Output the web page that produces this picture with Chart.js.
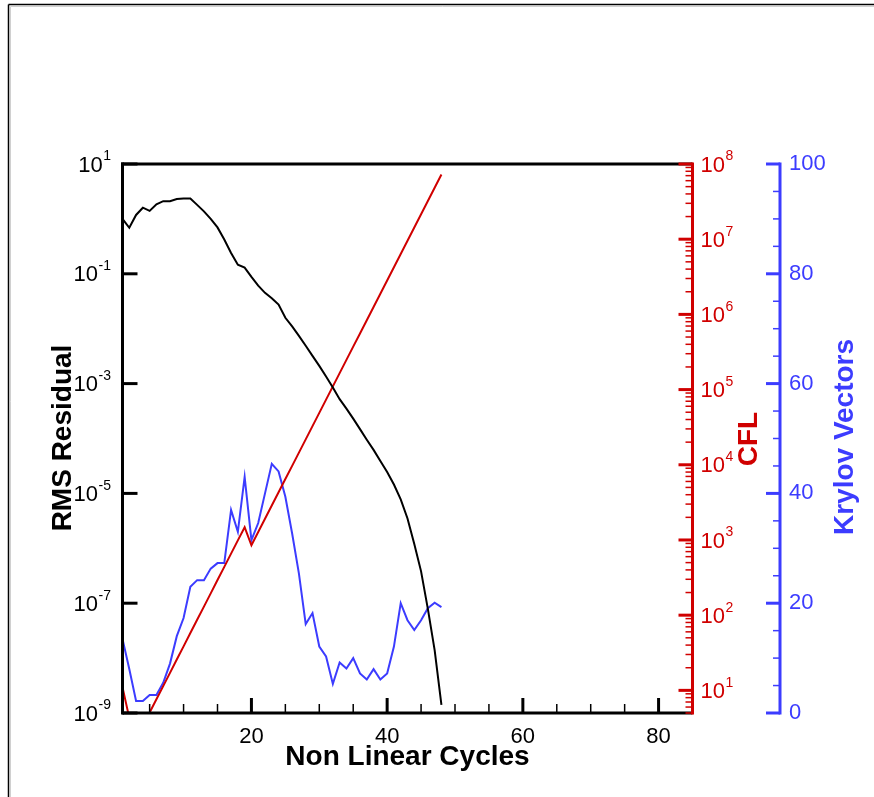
<!DOCTYPE html>
<html>
<head>
<meta charset="utf-8">
<script src="https://cdn.jsdelivr.net/npm/chart.js@4/dist/chart.umd.min.js"></script>
<style>
html,body{margin:0;padding:0;background:#fff;}
#wrap{position:relative;width:874px;height:797px;}
canvas{display:block;}
</style>
</head>
<body>
<div id="wrap"><canvas id="c" width="874" height="797"></canvas></div>
<script>
// ---------- data ----------
const cycles = [1,2,3,4,5,6,7,8,9,10,11,12,13,14,15,16,17,18,19,20,21,22,23,24,25,26,27,28,29,30,31,32,33,34,35,36,37,38,39,40,41,42,43,44,45,46,47,48];
const rmsResidual = [1.0,0.69,1.18,1.6,1.4,1.85,2.1,2.1,2.3,2.35,2.35,1.8,1.37,1.0,0.70,0.42,0.24,0.146,0.13,0.088,0.061,0.045,0.036,0.0275,0.0158,0.011,0.0074,0.0049,0.0032,0.0021,0.00135,0.00085,0.00052,0.00035,0.00023,0.000148,0.000095,0.000062,0.000039,0.0000245,0.0000145,0.0000078,0.0000035,0.0000012,3.8e-7,7.9e-8,1.4e-8,1.4e-9];
const cflValues = [11,4.3,2.9,3.4,5.07,7.6,11.4,17.1,25.7,38.5,57.8,86.7,130,195,293,439,658,987,1480,850,1275,1913,2869,4303,6455,9682,14523,21785,32677,49016,73524,110286,165429,248144,372216,558324,837486,1256229,1884343,2826515,4239773,6359659,9539489,14309233,21463850,32195775,48293662,72440493];
const krylovVectors = [13.5,8,2.2,2.2,3.3,3.3,5.5,9,14,17.3,23,24.2,24.2,26.3,27.3,27.3,37,33,43,31.5,34.6,40,45.4,44,39.4,32.7,25.4,16.2,18.2,12.1,10.3,5.3,9.2,8.1,10,7.2,6.1,8,6.1,7.2,12.1,20,16.9,15.1,16.9,19.1,20.1,19.3];

const xTickLabels = [20,40,60,80];
const residualTicks = [1e-9,1e-7,1e-5,1e-3,1e-1,1e1];
const cflTicks = [1e1,1e2,1e3,1e4,1e5,1e6,1e7,1e8];
const krylovTicks = [0,20,40,60,80,100];

const FONT = '"Liberation Sans", Arial, Helvetica, sans-serif';
const RED = 'rgb(208,0,0)';
const BLUE = 'rgb(60,60,255)';
Chart.defaults.font.family = FONT;

function pts(ys){ return cycles.map((c,i)=>({x:c,y:ys[i]})); }

function seg(ctx,x1,y1,x2,y2,color,w){
  ctx.strokeStyle=color; ctx.lineWidth=w; ctx.lineCap='butt';
  ctx.beginPath(); ctx.moveTo(x1,y1); ctx.lineTo(x2,y2); ctx.stroke();
}
function drawPow(ctx, exp, xAnchor, py, align, color){
  ctx.font = '22px ' + FONT;
  const w10 = ctx.measureText('10').width;
  ctx.font = '14px ' + FONT;
  const es = String(exp);
  const we = ctx.measureText(es).width;
  const x0 = align === 'right' ? xAnchor - w10 - we - 0.5 : xAnchor;
  ctx.fillStyle = color; ctx.textAlign = 'left'; ctx.textBaseline = 'middle';
  ctx.font = '22px ' + FONT;
  ctx.fillText('10', x0, py + 1.5);
  ctx.font = '14px ' + FONT;
  ctx.fillText(es, x0 + w10 + 0.5, py - 7.5);
}
function vTitle(ctx, text, x, y, color){
  ctx.save();
  ctx.translate(x, y); ctx.rotate(-Math.PI/2);
  ctx.font = 'bold 28px ' + FONT; ctx.fillStyle = color;
  ctx.textAlign = 'center'; ctx.textBaseline = 'alphabetic';
  ctx.fillText(text, 0, 0);
  ctx.restore();
}

const axisPainter = {
  id: 'axisPainter',
  afterDraw(chart){
    const ctx = chart.ctx, a = chart.chartArea;
    const {x, y, y1, y2} = chart.scales;
    ctx.save();
    // outer frame (top and left edges visible)
    seg(ctx, 8.5, 797, 8.5, 4.5, '#000', 1.5);
    seg(ctx, 8.5, 4.5, 874, 4.5, '#000', 1.5);
    seg(ctx, 10.5, 797, 10.5, 6.5, '#d0d0d0', 1);
    seg(ctx, 10.5, 6.5, 874, 6.5, '#d0d0d0', 1);

    // axis lines
    seg(ctx, a.left-1.5, a.top, a.right, a.top, '#000', 3);
    seg(ctx, a.left, a.top-1.5, a.left, a.bottom+1.5, '#000', 3);
    seg(ctx, a.left, a.bottom, a.right, a.bottom, '#000', 3);
    seg(ctx, a.right, a.top-1.5, a.right, a.bottom+1.5, RED, 3);
    seg(ctx, y2.left, a.top-1.5, y2.left, a.bottom+1.5, BLUE, 3);

    // left (residual) ticks + labels
    residualTicks.forEach(v=>{
      const py = y.getPixelForValue(v);
      seg(ctx, a.left, py, a.left+15, py, '#000', 3);
      drawPow(ctx, Math.round(Math.log10(v)), 111, py, 'right', '#000');
    });
    // x ticks
    for (let v = 5; v < x.max; v += 5){
      const px = x.getPixelForValue(v);
      if (v % 20 === 0) seg(ctx, px, a.bottom, px, a.bottom-15, '#000', 3);
      else seg(ctx, px, a.bottom, px, a.bottom-9, '#000', 1.5);
    }
    // CFL ticks + labels
    for (let k = 0; k <= 8; k++){
      for (let m = 1; m <= 9; m++){
        const v = m * Math.pow(10, k);
        if (v < y1.min || v > y1.max*1.0001) continue;
        const py = y1.getPixelForValue(v);
        if (m === 1) seg(ctx, a.right, py, a.right-14, py, RED, 3);
        else seg(ctx, a.right, py, a.right-7, py, RED, 1.5);
      }
    }
    cflTicks.forEach(v=>{
      const py = y1.getPixelForValue(v);
      drawPow(ctx, Math.round(Math.log10(v)), 700.5, py, 'left', RED);
    });
    // Krylov ticks
    for (let v = 0; v <= 100; v += 5){
      const py = y2.getPixelForValue(v);
      if (v % 20 === 0) seg(ctx, y2.left, py, y2.left-14, py, BLUE, 3);
      else seg(ctx, y2.left, py, y2.left-7, py, BLUE, 1.5);
    }

    // titles
    vTitle(ctx, 'RMS Residual', 71, 438, '#000');
    vTitle(ctx, 'CFL', 757, 439, RED);
    vTitle(ctx, 'Krylov Vectors', 853, 437, BLUE);
    ctx.font = 'bold 28px ' + FONT; ctx.fillStyle = '#000';
    ctx.textAlign = 'center'; ctx.textBaseline = 'alphabetic';
    ctx.fillText('Non Linear Cycles', 407.5, 765);
    ctx.restore();
  }
};

new Chart(document.getElementById('c'), {
  type: 'line',
  data: {
    datasets: [
      {label:'RMS Residual', data: pts(rmsResidual), yAxisID:'y', borderColor:'#000', borderWidth:2, pointRadius:0, tension:0, fill:false},
      {label:'CFL', data: pts(cflValues), yAxisID:'y1', borderColor:RED, borderWidth:2, pointRadius:0, tension:0, fill:false},
      {label:'Krylov Vectors', data: pts(krylovVectors), yAxisID:'y2', borderColor:BLUE, borderWidth:2, pointRadius:0, tension:0, fill:false}
    ]
  },
  options: {
    responsive: false,
    animation: false,
    devicePixelRatio: 1,
    layout: {padding: {top:164, left:0, right:0, bottom:0}},
    plugins: {legend:{display:false}, tooltip:{enabled:false}},
    scales: {
      x: {
        type:'linear', position:'bottom', min:1, max:85,
        grid:{display:false, drawTicks:false}, border:{display:false},
        afterBuildTicks: s => { s.ticks = xTickLabels.map(v=>({value:v})); },
        afterFit: s => { s.height = 84; },
        ticks:{color:'#000', font:{size:22}, padding:11, maxRotation:0, autoSkip:false}
      },
      y: {
        type:'logarithmic', position:'left', min:1e-9, max:10,
        grid:{display:false, drawTicks:false}, border:{display:false},
        ticks:{display:false},
        afterFit: s => { s.width = 122.5; }
      },
      y1: {
        type:'logarithmic', position:'right', min:5, max:1e8, weight:0,
        grid:{display:false, drawTicks:false}, border:{display:false},
        ticks:{display:false},
        afterFit: s => { s.width = 87.5; }
      },
      y2: {
        type:'linear', position:'right', min:0, max:100, weight:1,
        grid:{display:false, drawTicks:false}, border:{display:false},
        afterBuildTicks: s => { s.ticks = krylovTicks.map(v=>({value:v})); },
        ticks:{color:BLUE, font:{size:22}, padding:9},
        afterFit: s => { s.width = 94; }
      }
    }
  },
  plugins: [axisPainter]
});
</script>
</body>
</html>
